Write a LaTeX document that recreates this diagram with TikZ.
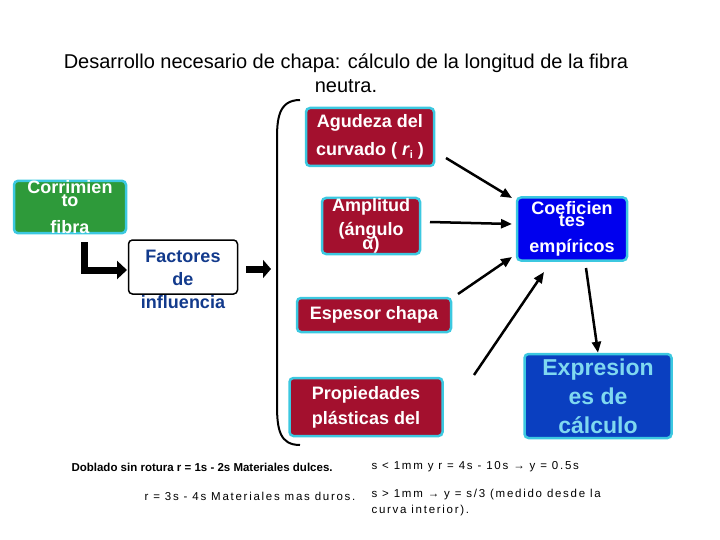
\documentclass[tikz,border=0pt]{standalone}
\usepackage{fontspec}
\setmainfont{Liberation Sans}
\usetikzlibrary{arrows.meta}
\definecolor{maroon}{HTML}{A3102E}
\definecolor{cyb}{HTML}{3CC8E0}
\definecolor{grn}{HTML}{2E9A3A}
\definecolor{bl1}{HTML}{0000EE}
\definecolor{bl2}{HTML}{0A3FC0}
\definecolor{dblue}{HTML}{123A8C}
\definecolor{lcy}{HTML}{7FD8F0}
\begin{document}
\begin{tikzpicture}[x=1pt,y=-1pt,
  bx/.style={draw=cyb,line width=2.5pt,rounded corners=4pt,text=white,align=center,inner sep=0pt},
  arr/.style={line width=2.5pt,-{Triangle[length=11pt,width=9pt]}},
  note/.style={font=\fontsize{11.5}{17}\selectfont\addfontfeature{LetterSpace=15},anchor=west,align=left}]
\useasboundingbox (0,0) rectangle (720,540);
\node[font=\fontsize{20}{24}\selectfont,align=center] (title) at (346,73) {Desarrollo necesario de chapa: cálculo de la longitud de la fibra\\neutra.};
\node[bx,fill=grn,minimum width=112pt,minimum height=52pt,font=\bfseries\fontsize{18}{11}\selectfont] (corr) at (70,207) {Corrimien\\to\\[12pt]fibra};
\node[draw=black,line width=1.5pt,rounded corners=4pt,fill=white,minimum width=109pt,minimum height=54pt] (fact) at (183,267) {};
\node[font=\bfseries\fontsize{18}{23}\selectfont,text=dblue,align=center] (factt) at (183,279) {Factores\\de\\influencia};
\coordinate (ba) at (84,242);
\coordinate (bb) at (127,270);
\draw[line width=7pt,-{Triangle[length=10pt,width=18pt]}] (ba) |- (bb);
\coordinate (ca) at (246,269);
\coordinate (cb) at (271,269);
\draw[line width=7pt,-{Triangle[length=8pt,width=18pt]}] (ca) -- (cb);
\coordinate (b1) at (300,100);
\coordinate (b2) at (300,445);
\draw[line width=2pt] (b1) .. controls (278,100) and (277,120) .. (277,140) -- (277,405) .. controls (277,430) and (280,445) .. (b2);
\node[bx,fill=maroon,minimum width=128pt,minimum height=58pt,font=\bfseries\fontsize{18}{28}\selectfont] (agu) at (370,137) {Agudeza del\\curvado ( \textit{r}\raisebox{-3pt}{\fontsize{11}{11}\selectfont i} )};
\node[bx,fill=maroon,minimum width=98pt,minimum height=56pt,font=\bfseries\fontsize{18}{24}\selectfont] (amp) at (371,226) {Amplitud\\(ángulo\\[-10pt]α)};
\node[bx,fill=maroon,minimum width=154pt,minimum height=34pt,font=\bfseries\fontsize{18}{20}\selectfont] (esp) at (374,315) {Espesor chapa};
\node[bx,fill=maroon,minimum width=153pt,minimum height=58pt,font=\bfseries\fontsize{18}{25}\selectfont] (prop) at (366,407) {Propiedades\\plásticas del};
\node[bx,fill=bl1,minimum width=110pt,minimum height=63pt,font=\bfseries\fontsize{18}{12}\selectfont] (coef) at (572,229) {Coeficien\\tes\\[11pt]empíricos};
\node[bx,fill=bl2,minimum width=147pt,minimum height=84pt,text=lcy,font=\bfseries\fontsize{23}{29}\selectfont] (expr) at (598,396) {Expresion\\es de\\cálculo};
\coordinate (c1) at (512,198);\coordinate (c2) at (512,224);\coordinate (c3) at (512,257);\coordinate (c4) at (544,272);
\draw[arr] (446,158) -- (c1);
\draw[arr] (430,222) -- (c2);
\draw[arr] (458,294) -- (c3);
\draw[arr] (474,375) -- (c4);
\draw[arr] (586,268) -- (expr.north);
\node[font=\bfseries\fontsize{11.5}{14}\selectfont,anchor=west] (n1) at (68,467) {Doblado sin rotura r = 1s - 2s Materiales dulces.};
\node[note] (n2) at (141,496) {r = 3s - 4s Materiales mas duros.};
\node[note] (n3) at (368,467) {s < 1mm y r = 4s - 10s → y = 0.5s};
\node[note,font=\fontsize{11.5}{16}\selectfont\addfontfeature{LetterSpace=15}] (n4) at (368,503) {s > 1mm → y = s/3 (medido desde la\\curva interior).};
\end{tikzpicture}
\end{document}
